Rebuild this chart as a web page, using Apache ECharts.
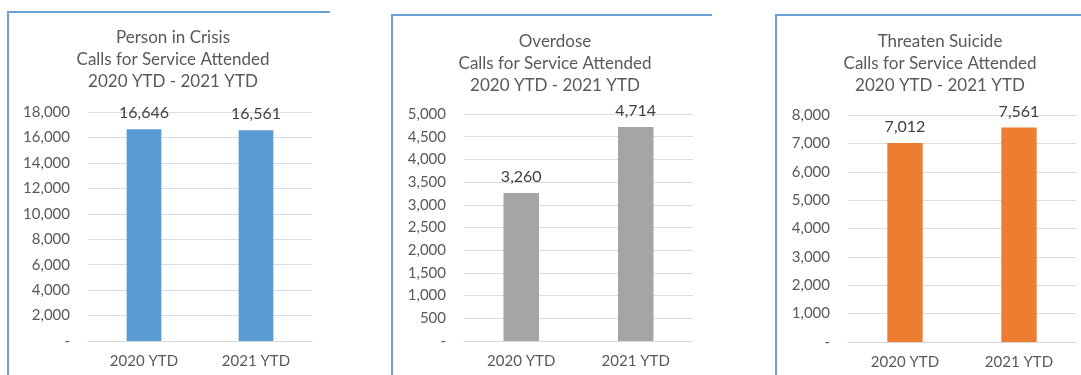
<!DOCTYPE html>
<html>
<head>
<meta charset="utf-8">
<script src="https://cdn.jsdelivr.net/npm/echarts@6/dist/echarts.min.js"></script>
<style>
html,body{margin:0;padding:0;background:#fff;}
#c{width:1081px;height:375px;}
</style>
</head>
<body>
<div id="c"></div>
<script>
const categories = ['2020 YTD', '2021 YTD'];
const titles = [
  'Person in Crisis\nCalls for Service Attended\n2020 YTD - 2021 YTD',
  'Overdose\nCalls for Service Attended\n2020 YTD - 2021 YTD',
  'Threaten Suicide\nCalls for Service Attended\n2020 YTD - 2021 YTD'
];
const personInCrisis = [16646, 16561];
const overdose = [3260, 4714];
const threatenSuicide = [7012, 7561];
const yMax = [18000, 5000, 8000];
const yInterval = [2000, 500, 1000];
const colors = ['#5B9BD5', '#A5A5A5', '#ED7D31'];
const seriesData = [personInCrisis, overdose, threatenSuicide];

const FONT = 'Lato, "Open Sans", sans-serif';
const fmt = v => v === 0 ? '-' : v.toLocaleString('en-US');

const grids = [
  {left: 88, top: 112, width: 224, height: 229},
  {left: 464, top: 114, width: 229, height: 227},
  {left: 848, top: 115, width: 228, height: 227}
];
const titleCenters = [168, 550, 935];
const titleTops = [22, 26, 26];

const chart = echarts.init(document.getElementById('c'), null, {renderer: 'canvas'});
const option = {
  animation: false,
  backgroundColor: '#fff',
  title: titles.map((t, i) => ({
    text: t,
    left: titleCenters[i],
    top: titleTops[i],
    textAlign: 'center',
    textStyle: {fontFamily: FONT, fontSize: 17, fontWeight: 'normal', color: '#595959', lineHeight: 22}
  })),
  grid: grids.map(g => Object.assign({containLabel: false}, g)),
  xAxis: grids.map((g, i) => ({
    type: 'category',
    gridIndex: i,
    data: categories,
    axisLine: {show: true, lineStyle: {color: '#d9d9d9', width: 1}},
    axisTick: {show: false},
    axisLabel: {fontFamily: FONT, fontSize: 15, color: '#595959', margin: 13}
  })),
  yAxis: grids.map((g, i) => ({
    type: 'value',
    gridIndex: i,
    min: 0,
    max: yMax[i],
    interval: yInterval[i],
    axisLine: {show: false},
    axisTick: {show: false},
    splitLine: {lineStyle: {color: '#dcdcdc', width: 1}},
    axisLabel: {fontFamily: FONT, fontSize: 15, color: '#595959', margin: 18, formatter: fmt}
  })),
  series: seriesData.map((d, i) => ({
    type: 'bar',
    xAxisIndex: i,
    yAxisIndex: i,
    data: d,
    barWidth: '31%',
    itemStyle: {color: colors[i]},
    label: {show: true, position: 'top', distance: 8, fontFamily: FONT, fontSize: 16, color: '#404040', formatter: p => fmt(p.value)}
  })),
  graphic: [
    {type: 'polyline', shape: {points: [[8, 375], [8, 12], [330, 12]]}, style: {stroke: '#6A9FD8', lineWidth: 2, fill: null}},
    {type: 'polyline', shape: {points: [[392, 375], [392, 15], [712, 15]]}, style: {stroke: '#6A9FD8', lineWidth: 2, fill: null}},
    {type: 'polyline', shape: {points: [[776, 375], [776, 15], [1081, 15]]}, style: {stroke: '#6A9FD8', lineWidth: 2, fill: null}}
  ]
};
chart.setOption(option);
</script>
</body>
</html>
